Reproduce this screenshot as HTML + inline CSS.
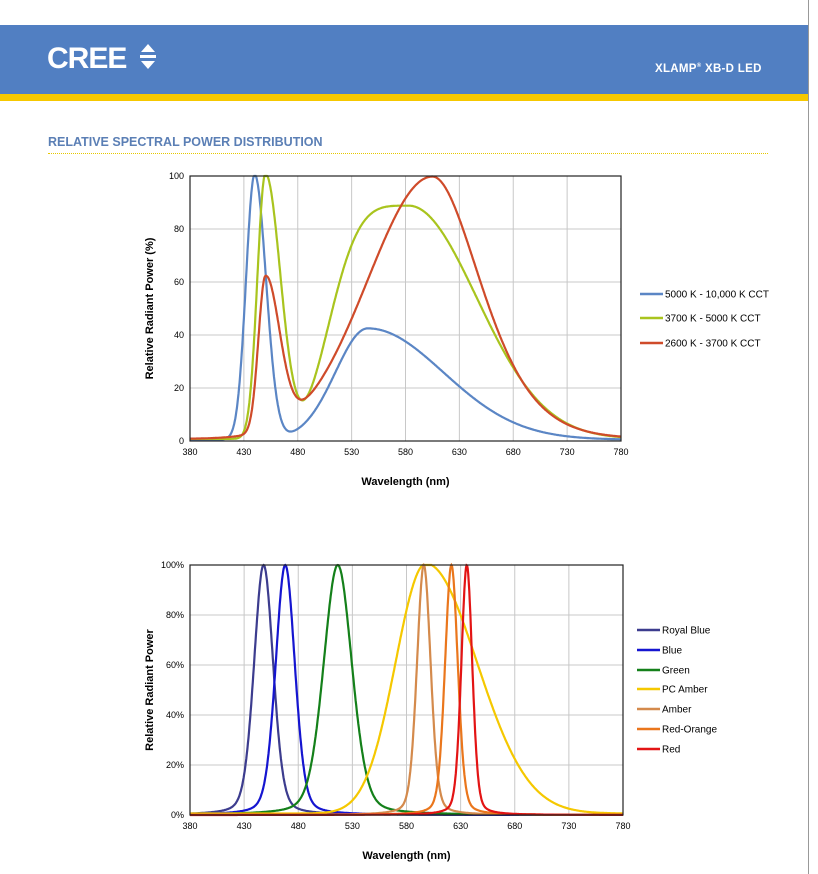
<!DOCTYPE html>
<html><head><meta charset="utf-8"><style>
body{margin:0;width:818px;height:874px;background:#fff;position:relative;overflow:hidden;font-family:"Liberation Sans",sans-serif}
.band{position:absolute;left:0;top:25px;width:808px;height:69px;background:#517fc2}
.yb{position:absolute;left:0;top:94px;width:808px;height:7px;background:#f6c800}
.edge{position:absolute;left:808px;top:0;width:1px;height:874px;background:#999}
.cree{position:absolute;left:47px;top:42px;color:#fff;font-weight:bold;font-size:30px;letter-spacing:-1px}
.xl{position:absolute;left:655px;top:63px;color:#fff;font-weight:bold;font-size:11.5px;letter-spacing:0.3px}
.title{position:absolute;left:48px;top:135px;color:#5b7fb5;font-weight:bold;font-size:12.5px;letter-spacing:0px}
.dots{position:absolute;left:48px;top:153px;width:720px;border-top:1px dotted #e6c800}
svg{position:absolute;left:0;top:0}
</style></head><body>
<div class="band"></div><div class="yb"></div><div class="edge"></div>
<div class="cree">CREE</div>
<svg width="818" height="874" style="z-index:1"><polygon points="141,52 155,52 148,44" fill="#fff"/><rect x="140" y="55" width="16" height="3" fill="#fff"/><polygon points="141,61 155,61 148,69" fill="#fff"/></svg>
<div class="xl">XLAMP<sup style="font-size:6px">®</sup> XB-D LED</div>
<div class="title">RELATIVE SPECTRAL POWER DISTRIBUTION</div>
<div class="dots"></div>
<svg id="s" width="818" height="874" font-family="Liberation Sans, sans-serif"></svg>
<script>
var s=document.getElementById('s');var h='';
function chart(x0,x1,y0,y1,pct,legend,series,yl){
 var W=x1-x0,H=y1-y0;
 for(var i=0;i<=8;i++){var x=x0+W*i/8;h+='<line x1="'+x+'" y1="'+y0+'" x2="'+x+'" y2="'+y1+'" stroke="#c8c8c8" stroke-width="1"/>';
  h+='<text x="'+x+'" y="'+(y1+14)+'" font-size="9" text-anchor="middle">'+(380+50*i)+'</text>';}
 for(var j=0;j<=5;j++){var y=y1-H*j/5;h+='<line x1="'+x0+'" y1="'+y+'" x2="'+x1+'" y2="'+y+'" stroke="#c8c8c8"/>';
  h+='<text x="'+(x0-6)+'" y="'+(y+3)+'" font-size="9" text-anchor="end">'+(j*20)+(pct?'%':'')+'</text>';}
 series.forEach(function(se){var d='';for(var l=380;l<=780;l+=0.5){var v=Math.max(0,Math.min(100,se.f(l)));
  d+=(l==380?'M':'L')+(x0+W*(l-380)/400).toFixed(1)+','+(y1-H*v/100).toFixed(1);}
  h+='<path d="'+d+'" fill="none" stroke="'+se.c+'" stroke-width="2.2"/>';});
 h+='<rect x="'+x0+'" y="'+y0+'" width="'+W+'" height="'+H+'" fill="none" stroke="#222" stroke-width="1.2"/>';
 h+='<text x="'+((x0+x1)/2)+'" y="'+(y1+44)+'" font-size="11" font-weight="bold" text-anchor="middle">Wavelength (nm)</text>';
 h+='<text transform="translate('+(x0-37)+','+((y0+y1)/2)+') rotate(-90)" font-size="11" font-weight="bold" text-anchor="middle">'+yl+'</text>';
 legend.forEach(function(L,k){var y=L.y;h+='<line x1="'+L.x+'" y1="'+y+'" x2="'+(L.x+23)+'" y2="'+y+'" stroke="'+series[k].c+'" stroke-width="2.5"/><text x="'+(L.x+25)+'" y="'+(y+3.5)+'" font-size="10">'+series[k].n+'</text>';});
}
function g(l,m,sl,sr){var d=l-m,s=d<0?sl:sr;return Math.exp(-d*d/(2*s*s));}
function tail(l,m,sl,sr,k){var d=l-m;if(d<0)return Math.exp(-d*d/(2*sl*sl));var s=sr*(1+d/k);return Math.exp(-d*d/(2*s*s));}
function sg(l,m,sl,sr){var d=l-m;if(d<0){var q=-d/sl;return Math.exp(-q*q*q*q/2);}return Math.exp(-d*d/(2*sr*sr));}
chart(190,621,176,441,false,[{x:640,y:294},{x:640,y:318},{x:640,y:343}],[
 {c:'#5b86c5',n:'5000 K - 10,000 K CCT',f:function(l){return 100*g(l,440,8,10.5)+42*g(l,545,30,70)+0.5;}},
 {c:'#a9c41e',n:'3700 K - 5000 K CCT',f:function(l){return 100*g(l,450,7.5,14)+88*sg(l,583,68,63)+0.8;}},
 {c:'#cf4b2a',n:'2600 K - 3700 K CCT',f:function(l){return 58*g(l,450,6.5,13)+99*tail(l,605,60,39.6,400)+0.8;}}
],'Relative Radiant Power  (%)');
function pv(l,m,w){var d=(l-m)/w;return 0.75*Math.exp(-d*d*2.77)+0.25/(1+4*d*d);}
chart(190,623,565,815,true,[{x:637,y:630},{x:637,y:650},{x:637,y:670},{x:637,y:689},{x:637,y:709},{x:637,y:729},{x:637,y:749}],[
 {c:'#3c3c8e',n:'Royal Blue',f:function(l){return 100*pv(l,448,21);}},
 {c:'#1515d0',n:'Blue',f:function(l){return 100*pv(l,468,21);}},
 {c:'#14801a',n:'Green',f:function(l){return 100*pv(l,516.5,31);}},
 {c:'#f5c800',n:'PC Amber',f:function(l){return 100*g(l,598,28,47)+0.6;}},
 {c:'#d48a4c',n:'Amber',f:function(l){return 100*pv(l,596,15);}},
 {c:'#ea761c',n:'Red-Orange',f:function(l){return 100*pv(l,621.5,14);}},
 {c:'#e31414',n:'Red',f:function(l){return 100*pv(l,635.7,12);}}
],'Relative Radiant Power');
s.innerHTML=h;
</script>
</body></html>
